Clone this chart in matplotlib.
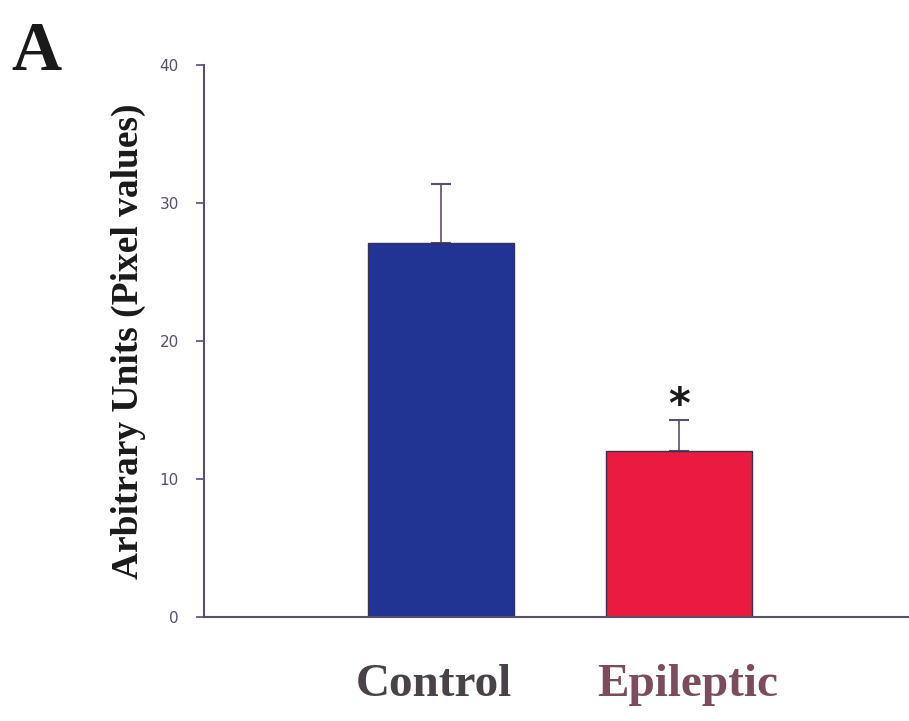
import matplotlib.pyplot as plt
import numpy as np

groups = ['Control', 'Epileptic']
values = [27.1, 12.0]
errors = [4.3, 2.3]
bar_colors = ['#213494', '#ea1a40']
label_colors = ['#4a4249', '#7a4c5e']
yticks = [0, 10, 20, 30, 40]

axis_col = '#5b4d6e'

fig = plt.figure(figsize=(9.09, 7.21), dpi=100)
ax = fig.add_axes([0.2244, 0.1442, 0.7756, 0.7656])

x = np.arange(len(groups))
ax.bar(x, values, width=0.61, color=bar_colors, edgecolor='#3a3050', linewidth=1.0, zorder=2)
ax.errorbar(x, values, yerr=[[0, 0], errors], fmt='none', ecolor=axis_col,
            elinewidth=1.2, capsize=7, capthick=1.5, zorder=1)

ax.text(x[1], values[1] + errors[1] - 0.5, '*', ha='center', va='bottom',
        fontsize=30, fontweight='bold', color='#1a1a1a')

ax.set_xlim(-0.996, 1.966)
ax.set_ylim(0, 40)
ax.set_yticks(yticks)
ax.set_yticklabels([str(t) for t in yticks], fontsize=11, color=axis_col)
ax.set_xticks([])
ax.tick_params(axis='y', direction='out', length=6, width=1.2, color=axis_col, pad=12)

for s in ['top', 'right']:
    ax.spines[s].set_visible(False)
for s in ['left', 'bottom']:
    ax.spines[s].set_color(axis_col)
    ax.spines[s].set_linewidth(1.5)

ax.set_ylabel('Arbitrary Units (Pixel values)', fontsize=27, fontweight='bold',
              family='Liberation Serif', color='#1a1a1a', labelpad=10)

label_shift = [-0.03, 0.035]
for xi, g, c, dx in zip(x, groups, label_colors, label_shift):
    ax.text(xi + dx, -4.9, g, ha='center', va='center', fontsize=34, fontweight='bold',
            family='Liberation Serif', color=c, clip_on=False)

fig.text(0.012, 0.903, 'A', fontsize=50, fontweight='bold', family='Liberation Serif',
         color='#1a1a1a', ha='left', va='baseline')

fig.savefig('out.png', dpi=100)
